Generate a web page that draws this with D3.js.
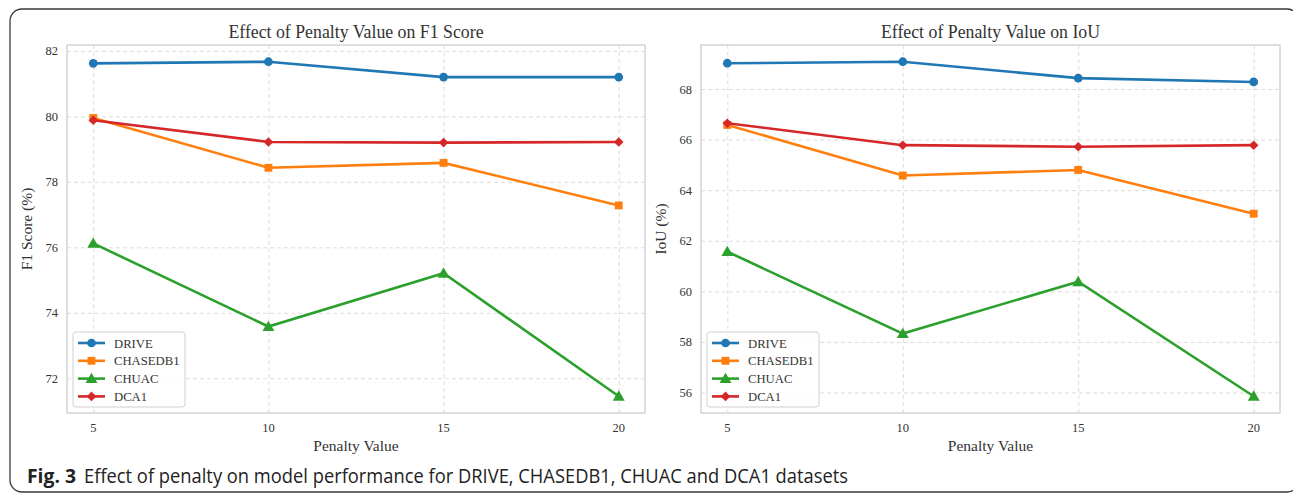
<!DOCTYPE html>
<html lang="en">
<head>
<meta charset="UTF-8">
<title>Effect of penalty</title>
<script src="https://d3js.org/d3.v7.min.js"></script>
<style>
    body{ margin:0; background:#fff; }
    .tick-lbl{ font-family:"Liberation Serif","DejaVu Serif",serif; font-size:12.5px; fill:#333; }
    .ax-lbl{ font-family:"Liberation Serif",serif; font-size:15.5px; fill:#333; }
    .ttl{ font-family:"Liberation Serif",serif; font-size:17.8px; fill:#333; }
    .leg{ font-family:"Liberation Serif",serif; font-size:12.7px; fill:#333; }
    .cap{ font-family:"Open Sans","Noto Sans",sans-serif; font-size:19.5px; fill:#222; }
</style>
</head>
<body>
<svg id="fig" width="1293" height="494"></svg>
<script>
    // data
    let penalties = [5, 10, 15, 20];
    let datasets = ["DRIVE", "CHASEDB1", "CHUAC", "DCA1"];
    let colors = ["#1f77b4", "#ff7f0e", "#2ca02c", "#d62728"];
    let shapes = ["circle", "square", "triangle", "diamond"];

    let f1_drive = [81.62, 81.67, 81.20, 81.20];
    let f1_chasedb1 = [79.95, 78.43, 78.58, 77.28];
    let f1_chuac = [76.12, 73.58, 75.21, 71.45];
    let f1_dca1 = [79.88, 79.22, 79.20, 79.22];

    let iou_drive = [69.02, 69.08, 68.43, 68.28];
    let iou_chasedb1 = [66.58, 64.58, 64.80, 63.07];
    let iou_chuac = [61.57, 58.33, 60.38, 55.85];
    let iou_dca1 = [66.65, 65.78, 65.72, 65.78];

    let f1_ticks = [72, 74, 76, 78, 80, 82];
    let iou_ticks = [56, 58, 60, 62, 64, 66, 68];

    let svg = d3.select("#fig");

    // outer frame of the figure box
    svg.append("rect")
        .attr("x", 10).attr("y", 9)
        .attr("width", 1289).attr("height", 483)
        .attr("rx", 12).attr("ry", 12)
        .attr("fill", "none")
        .attr("stroke", "#3a3a3a")
        .attr("stroke-width", 1.3);

    function marker(shape, sel){
        if (shape === "circle") return sel.append("path").attr("d", d3.symbol(d3.symbolCircle, 60)());
        if (shape === "square") return sel.append("path").attr("d", d3.symbol(d3.symbolSquare, 62)());
        if (shape === "triangle") return sel.append("path").attr("d", d3.symbol(d3.symbolTriangle, 62)()).attr("transform", "translate(0,1)");
        return sel.append("path").attr("d", d3.symbol(d3.symbolSquare, 46)()).attr("transform", "rotate(45)");
    }

    function panel(left, right, series, ticks, title, yLabel, yLabelX){
        let top = 45, bottom = 413;
        let x = d3.scaleLinear().domain([4.25, 20.75]).range([left, right]);
        let all = series.flat();
        let lo = d3.min(all), hi = d3.max(all), pad = (hi - lo) * 0.05;
        let y = d3.scaleLinear().domain([lo - pad, hi + pad]).range([bottom, top]);

        let g = svg.append("g");

        // grid
        g.append("g").call(d3.axisLeft(y).tickValues(ticks).tickSize(-(right - left)).tickFormat(""))
            .attr("transform", `translate(${left},0)`)
            .call(a => a.select(".domain").remove())
            .selectAll("line").attr("stroke", "#dcdcdc").attr("stroke-dasharray", "4,3");
        g.append("g").call(d3.axisBottom(x).tickValues(penalties).tickSize(-(bottom - top)).tickFormat(""))
            .attr("transform", `translate(0,${bottom})`)
            .call(a => a.select(".domain").remove())
            .selectAll("line").attr("stroke", "#dcdcdc").attr("stroke-dasharray", "4,3");

        // spines
        g.append("rect").attr("x", left).attr("y", top)
            .attr("width", right - left).attr("height", bottom - top)
            .attr("fill", "none").attr("stroke", "#d4d4d4").attr("stroke-width", 1.5);

        // tick labels
        g.selectAll(".yt").data(ticks).join("text")
            .attr("class", "tick-lbl").attr("text-anchor", "end")
            .attr("x", left - 9).attr("y", d => y(d) + 4.5).text(d => d);
        g.selectAll(".xt").data(penalties).join("text")
            .attr("class", "tick-lbl").attr("text-anchor", "middle")
            .attr("x", d => x(d)).attr("y", 432).text(d => d);

        g.append("text").attr("class", "ax-lbl").attr("text-anchor", "middle")
            .attr("x", (left + right) / 2).attr("y", 451).text("Penalty Value");
        g.append("text").attr("class", "ax-lbl").attr("text-anchor", "middle")
            .attr("transform", `translate(${yLabelX},${(top + bottom) / 2}) rotate(-90)`)
            .text(yLabel);
        g.append("text").attr("class", "ttl").attr("text-anchor", "middle")
            .attr("x", (left + right) / 2).attr("y", 38).text(title);

        // lines and markers
        let line = d3.line().x((d, i) => x(penalties[i])).y(d => y(d));
        series.forEach((vals, k) => {
            g.append("path").datum(vals).attr("d", line)
                .attr("fill", "none").attr("stroke", colors[k]).attr("stroke-width", 2.6);
            vals.forEach((v, i) => {
                let m = g.append("g").attr("transform", `translate(${x(penalties[i])},${y(v)})`);
                marker(shapes[k], m).attr("fill", colors[k]);
            });
        });

        // legend
        let lx = left + 6, ly = 332;
        let leg = g.append("g");
        leg.append("rect").attr("x", lx).attr("y", ly).attr("width", 112).attr("height", 75)
            .attr("rx", 3).attr("fill", "#fff").attr("fill-opacity", 0.85)
            .attr("stroke", "#d0d0d0").attr("stroke-width", 1);
        datasets.forEach((name, k) => {
            let ry = ly + 11 + k * 17.8;
            leg.append("line").attr("x1", lx + 5).attr("x2", lx + 32).attr("y1", ry).attr("y2", ry)
                .attr("stroke", colors[k]).attr("stroke-width", 2.6);
            let m = leg.append("g").attr("transform", `translate(${lx + 18.5},${ry})`);
            marker(shapes[k], m).attr("fill", colors[k]);
            leg.append("text").attr("class", "leg").attr("x", lx + 41).attr("y", ry + 4.5).text(name);
        });
    }

    panel(67, 645, [f1_drive, f1_chasedb1, f1_chuac, f1_dca1], f1_ticks,
        "Effect of Penalty Value on F1 Score", "F1 Score (%)", 32);
    panel(701, 1280, [iou_drive, iou_chasedb1, iou_chuac, iou_dca1], iou_ticks,
        "Effect of Penalty Value on IoU", "IoU (%)", 666);

    // caption
    svg.append("text").attr("class", "cap").attr("x", 27).attr("y", 483)
        .attr("font-weight", "bold")
        .attr("textLength", 49).attr("lengthAdjust", "spacingAndGlyphs")
        .text("Fig. 3");
    svg.append("text").attr("class", "cap").attr("x", 84).attr("y", 483)
        .attr("textLength", 764).attr("lengthAdjust", "spacingAndGlyphs")
        .text("Effect of penalty on model performance for DRIVE, CHASEDB1, CHUAC and DCA1 datasets");
</script>
</body>
</html>
